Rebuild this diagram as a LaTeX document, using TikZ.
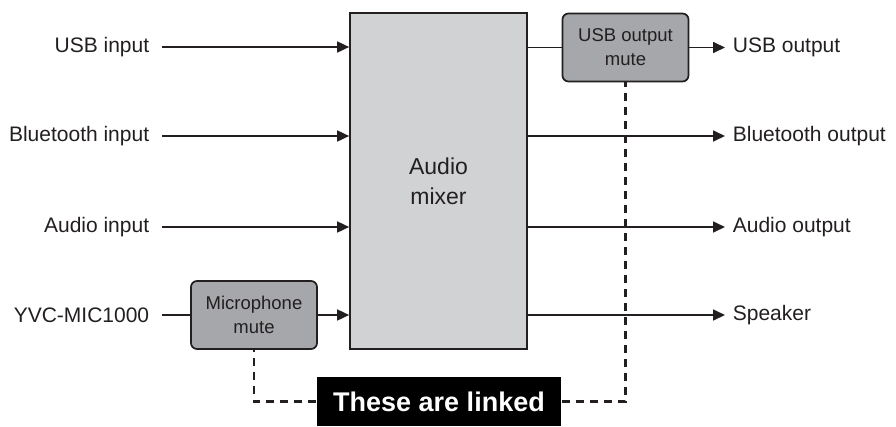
\documentclass[tikz,border=0pt]{standalone}
\usepackage{fontspec}
\setmainfont{Liberation Sans}
\usetikzlibrary{arrows.meta}
\definecolor{inkgray}{HTML}{231F20}
\definecolor{mixfill}{HTML}{D1D2D4}
\definecolor{mutefill}{HTML}{A5A7AA}
\begin{document}
\begin{tikzpicture}[x=1pt, y=-1pt, line width=1.7pt, color=inkgray,
        inlabel/.style = {anchor=east, inner xsep=12pt, font=\fontsize{21}{25}\selectfont},
        outlabel/.style = {anchor=west, inner xsep=7pt, font=\fontsize{21}{25}\selectfont},
        mutebox/.style = {draw, fill=mutefill, rounded corners=6pt, align=center,
            minimum width=126pt, minimum height=68pt, font=\fontsize{18.5}{24}\selectfont},
        feed/.style = {-{Triangle[length=12pt,width=11pt]}},
        linked/.style = {dash pattern=on 8pt off 6pt, line width=2.8pt}]
    \useasboundingbox (0,0) rectangle (896,426);
    % mixer and the two mutes
    \node[draw, fill=mixfill, minimum width=177pt, minimum height=336pt, align=center,
          font=\fontsize{23}{30}\selectfont] (mixer) at (438.5,181) {Audio\\mixer};
    \node[mutebox] (micmute) at (254,315) {Microphone\\mute};
    \node[mutebox] (usbmute) at (625.5,47.5) {USB output\\mute};
    \node[fill=black, text=white, minimum width=244pt, minimum height=49pt,
          font=\bfseries\fontsize{27}{30}\selectfont] (link) at (439,401.5) {These are linked};
    % inputs
    \node[inlabel] (usbin) at (162,47) {USB input};
    \node[inlabel] (btin)  at (162,136) {Bluetooth input};
    \node[inlabel] (audin) at (162,227) {Audio input};
    \node[inlabel] (micin) at (162,315) {YVC-MIC1000};
    % outputs
    \node[outlabel] (usbout) at (725,47.5) {USB output};
    \node[outlabel] (btout)  at (725,136) {Bluetooth output};
    \node[outlabel] (audout) at (725,227) {Audio output};
    \node[outlabel] (spkout) at (725,315) {Speaker};

    \draw[feed] (usbin.east) -- (usbin.east -| mixer.west);
    \draw[feed] (btin.east) -- (btin.east -| mixer.west);
    \draw[feed] (audin.east) -- (audin.east -| mixer.west);
    \draw (micin.east) -- (micmute.west);
    \draw[feed] (micmute.east) -- (micmute.east -| mixer.west);

    \draw (mixer.east |- usbmute.west) -- (usbmute.west);
    \draw[feed] (usbmute.east) -- (usbout.west);
    \draw[feed] (mixer.east |- btout.west) -- (btout.west);
    \draw[feed] (mixer.east |- audout.west) -- (audout.west);
    \draw[feed] (mixer.east |- spkout.west) -- (spkout.west);

    % the linked mutes
    \draw[linked] (link.west) -- (link.west -| micmute.south) -- (micmute.south);
    \draw[linked] (link.east) -- (link.east -| usbmute.south) -- (usbmute.south);
\end{tikzpicture}
\end{document}
